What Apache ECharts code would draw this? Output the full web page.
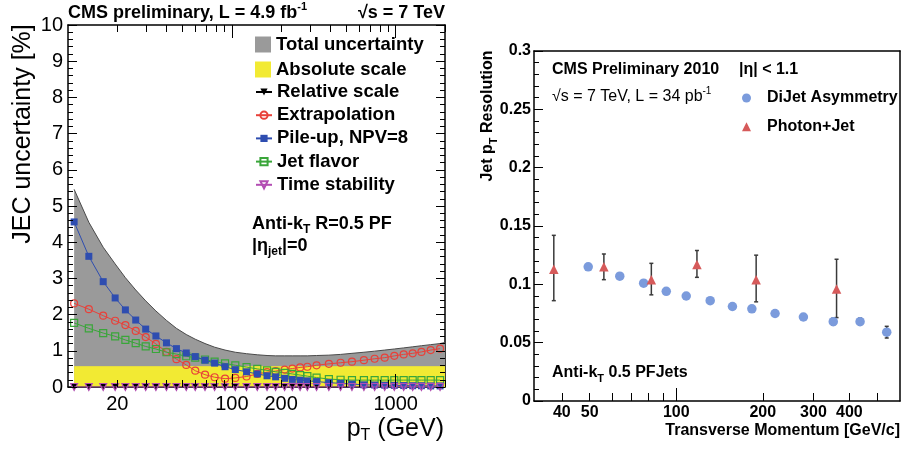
<!DOCTYPE html>
<html><head><meta charset="utf-8">
<script src="https://cdn.jsdelivr.net/npm/echarts@6/dist/echarts.min.js"></script>
<style>html,body{margin:0;padding:0;background:#fff}.c{position:absolute;left:0;top:0;width:904px;height:453px}#t{pointer-events:none}</style>
</head><body><div class="c" id="c"></div><div class="c" id="t"></div>
<script>
// ---------- Left panel: JEC uncertainty vs pT ----------
const ptBins = [10.9, 13.4, 16.4, 19.4, 22.4, 25.9, 29.8, 34.4, 39.9, 45.9, 52.7, 59.8, 68.6, 78.5, 90.9, 105, 123, 143, 164, 185, 210, 234, 261, 289, 329, 391, 461, 541, 640, 744, 857, 981, 1119, 1270, 1436, 1636, 1866];
const totalUnc = [5.46, 4.55, 3.86, 3.40, 3.02, 2.68, 2.38, 2.10, 1.84, 1.62, 1.45, 1.32, 1.20, 1.10, 1.02, 0.96, 0.92, 0.89, 0.87, 0.86, 0.86, 0.86, 0.86, 0.86, 0.87, 0.88, 0.90, 0.93, 0.96, 0.99, 1.02, 1.05, 1.08, 1.11, 1.14, 1.17, 1.20];
const totalEndPt = 2000;
const totalEndVal = 1.23;
const absPt = [10.9, 2000];
const absScale = [0.56, 0.56];
const relScale = [0,0,0,0,0,0,0,0,0,0,0,0,0,0,0,0,0,0,0,0,0,0,0,0,0,0,0,0,0,0,0,0,0,0,0,0,0];
const extrap = [2.31, 2.15, 1.97, 1.83, 1.71, 1.55, 1.38, 1.19, 0.97, 0.77, 0.61, 0.45, 0.34, 0.27, 0.23, 0.25, 0.29, 0.36, 0.41, 0.44, 0.48, 0.51, 0.54, 0.56, 0.60, 0.64, 0.67, 0.70, 0.74, 0.78, 0.81, 0.86, 0.90, 0.93, 0.97, 1.02, 1.06];
const pileUp = [4.56, 3.61, 2.91, 2.46, 2.13, 1.85, 1.60, 1.41, 1.22, 1.06, 0.94, 0.84, 0.74, 0.66, 0.56, 0.48, 0.42, 0.36, 0.31, 0.28, 0.24, 0.21, 0.19, 0.17, 0.15, 0.12, 0.10, 0.08, 0.06, 0.055, 0.05, 0.045, 0.04, 0.035, 0.035, 0.03, 0.03];
const flavor = [1.77, 1.62, 1.49, 1.40, 1.30, 1.21, 1.12, 1.05, 0.96, 0.91, 0.85, 0.81, 0.76, 0.70, 0.65, 0.60, 0.55, 0.50, 0.46, 0.42, 0.39, 0.36, 0.33, 0.30, 0.26, 0.22, 0.20, 0.19, 0.19, 0.19, 0.19, 0.19, 0.19, 0.19, 0.19, 0.19, 0.19];
const timeStab = [0,0,0,0,0,0,0,0,0,0,0,0,0,0,0,0,0,0,0,0,0,0,0,0,0,0,0,0,0,0,0,0,0,0,0,0,0];
const leftXLabels = [20, 100, 200, 1000];
const leftXTicksShort = [20, 30, 40, 50, 60, 70, 80, 90, 200, 300, 400, 500, 600, 700, 800, 900, 2000];
const leftXTicksLong = [100, 1000];

// ---------- Right panel: jet pT resolution ----------
const dijetPt = [49.4, 63.6, 77.0, 92.3, 108.3, 131.2, 156.8, 183.2, 220.6, 276.8, 351.6, 435.8, 539.5];
const dijetRes = [0.115, 0.107, 0.101, 0.094, 0.090, 0.086, 0.081, 0.079, 0.075, 0.072, 0.068, 0.068, 0.059];
const dijetErr = [0.002, 0.002, 0.002, 0.002, 0.002, 0.002, 0.002, 0.002, 0.002, 0.002, 0.003, 0.003, 0.005];
const photonPt = [37.5, 56.0, 81.9, 118, 189.6, 361];
const photonRes = [0.113, 0.115, 0.104, 0.117, 0.104, 0.096];
const photonErrHi = [0.142, 0.126, 0.118, 0.129, 0.125, 0.1215];
const photonErrLo = [0.086, 0.104, 0.091, 0.106, 0.085, 0.0715];
const rightXLabels = [40, 50, 100, 200, 300, 400];
const rightXTicksShort = [40, 50, 60, 70, 80, 90, 200, 300, 400, 500];
const rightXTicksLong = [100];

const FONT = "'Liberation Sans', Arial, Helvetica, sans-serif";
const C = {
  gray: '#9a9a9a', grayLine: '#4a4a4a', yellow: '#f2ea33',
  red: '#e8413a', blue: '#2e4db0', green: '#3aa63a', purple: '#b34db3',
  dijet: '#7b9bdc', photon: '#d65a5a'
};
const pairs = (xs, ys) => xs.map((x, i) => [x, ys[i]]);

const GRIDS = [
  {left: 68, top: 25, width: 377, height: 362},
  {left: 534, top: 51, width: 366, height: 350}
];

// part: 'main' -> axis lines + labels ; 'ticks' -> tick marks only
function xLog(part, grid, min, max, pos, labels, ticks, tickLen, showLine, labelStyle) {
  const main = part === 'main';
  return {
    type: 'log', gridIndex: grid, position: pos, min: min, max: max, logBase: 10,
    axisLine: {show: main && showLine, onZero: false, lineStyle: {color: '#000', width: 1.5}},
    axisTick: (!main && ticks) ? {show: true, inside: true, length: tickLen, customValues: ticks, lineStyle: {color: '#000', width: 1}} : {show: false},
    axisLabel: (main && labels) ? Object.assign({show: true, customValues: labels, formatter: v => String(v), color: '#000', fontFamily: FONT}, labelStyle) : {show: false},
    splitLine: {show: false}, minorTick: {show: false}
  };
}
function yVal(part, grid, pos, min, max, interval, withTicks, labelStyle) {
  const main = part === 'main';
  return {
    type: 'value', gridIndex: grid, position: pos, min: min, max: max, interval: interval,
    axisLine: {show: main, onZero: false, lineStyle: {color: '#000', width: 1.5}},
    axisTick: (!main && withTicks) ? {show: true, inside: true, length: 9, lineStyle: {color: '#000', width: 1}} : {show: false},
    minorTick: (!main && withTicks) ? {show: true, splitNumber: 5, length: 5, lineStyle: {color: '#000', width: 1}} : {show: false},
    axisLabel: (main && labelStyle) ? Object.assign({show: true, color: '#000', fontFamily: FONT}, labelStyle) : {show: false},
    splitLine: {show: false}
  };
}
function axes(part) {
  return {
    xAxis: [
      xLog(part, 0, 10, 2000, 'bottom', leftXLabels, leftXTicksShort, 7, true, {fontSize: 20, margin: 7}),
      xLog(part, 0, 10, 2000, 'bottom', null, leftXTicksLong, 13, false),
      xLog(part, 0, 10, 2000, 'top', null, leftXTicksShort, 7, true),
      xLog(part, 0, 10, 2000, 'top', null, leftXTicksLong, 13, false),
      xLog(part, 1, 32, 600, 'bottom', rightXLabels, rightXTicksShort, 8, true, {fontSize: 16, fontWeight: 'bold', margin: 4}),
      xLog(part, 1, 32, 600, 'bottom', null, rightXTicksLong, 13, false),
      xLog(part, 1, 32, 600, 'top', null, null, 0, true)
    ],
    yAxis: [
      yVal(part, 0, 'left', 0, 10, 1, true, {fontSize: 20, margin: 5}),
      yVal(part, 0, 'right', 0, 10, 1, true, null),
      yVal(part, 1, 'left', 0, 0.3, 0.05, true, {fontSize: 16, fontWeight: 'bold', margin: 3}),
      yVal(part, 1, 'right', 0, 0.3, 0.05, false, null)
    ]
  };
}

function errRender(params, api) {
  const x = api.value(0), lo = api.value(1), hi = api.value(2);
  const p1 = api.coord([x, lo]);
  const p2 = api.coord([x, hi]);
  return {type: 'group', children: [
    {type: 'line', shape: {x1: p1[0], y1: p1[1], x2: p2[0], y2: p2[1]}, style: {stroke: '#3a3a3a', lineWidth: 1.5}},
    {type: 'line', shape: {x1: p1[0] - 2, y1: p1[1], x2: p1[0] + 2, y2: p1[1]}, style: {stroke: '#3a3a3a', lineWidth: 1.5}},
    {type: 'line', shape: {x1: p2[0] - 2, y1: p2[1], x2: p2[0] + 2, y2: p2[1]}, style: {stroke: '#3a3a3a', lineWidth: 1.5}}
  ]};
}

function T(x, y, text, rich, extra) {
  return Object.assign({
    type: 'text', x: x, y: y, z: 100,
    style: {text: text, rich: rich, fill: '#000', fontFamily: FONT,
      align: 'left', textAlign: 'left', verticalAlign: 'middle', textVerticalAlign: 'middle'}
  }, extra || {});
}
function alignRight(el) { el.style.align = 'right'; el.style.textAlign = 'right'; return el; }
function alignCenter(el) { el.style.align = 'center'; el.style.textAlign = 'center'; return el; }

const richL = {
  b: {fontSize: 18, fontWeight: 'bold', fontFamily: FONT, lineHeight: 24, verticalAlign: 'middle'},
  sup: {fontSize: 11, fontWeight: 'bold', fontFamily: FONT, lineHeight: 11, verticalAlign: 'top'},
  sub: {fontSize: 12, fontWeight: 'bold', fontFamily: FONT, lineHeight: 12, verticalAlign: 'bottom'},
  r: {fontSize: 25, fontFamily: FONT, lineHeight: 30, verticalAlign: 'middle'},
  rs: {fontSize: 16, fontFamily: FONT, lineHeight: 16, verticalAlign: 'bottom'}
};
const richR = {
  b: {fontSize: 16, fontWeight: 'bold', fontFamily: FONT, lineHeight: 22, verticalAlign: 'middle'},
  r: {fontSize: 16, fontFamily: FONT, lineHeight: 22, verticalAlign: 'middle'},
  sup: {fontSize: 10, fontFamily: FONT, lineHeight: 10, verticalAlign: 'top'},
  sub: {fontSize: 11, fontWeight: 'bold', fontFamily: FONT, lineHeight: 11, verticalAlign: 'bottom'}
};

const emptyStyle = col => ({color: 'rgba(0,0,0,0)', borderColor: col, borderWidth: 1.2});

const mainAxes = axes('main');
const option = {
  backgroundColor: '#fff',
  animation: false,
  grid: GRIDS,
  xAxis: mainAxes.xAxis,
  yAxis: mainAxes.yAxis,
  legend: [
    {left: 255, top: 35, padding: 0, orient: 'vertical', itemWidth: 16, itemHeight: 16, itemGap: 6,
      textStyle: {fontSize: 18.5, fontWeight: 'bold', fontFamily: FONT, color: '#000', lineHeight: 18},
      data: [
        {name: 'Total uncertainty', icon: 'rect', itemStyle: {color: C.gray, borderColor: C.grayLine, borderWidth: 0}},
        {name: 'Absolute scale', icon: 'rect', itemStyle: {color: C.yellow, borderWidth: 0}}
      ]},
    {left: 255, top: 82.5, padding: 0, orient: 'vertical', itemWidth: 16, itemHeight: 9, itemGap: 4.2,
      textStyle: {fontSize: 18.5, fontWeight: 'bold', fontFamily: FONT, color: '#000', lineHeight: 18},
      data: ['Relative scale', 'Extrapolation', 'Pile-up, NPV=8', 'Jet flavor', 'Time stability']},
    {left: 742, top: 90, padding: 0, orient: 'vertical', itemWidth: 9, itemHeight: 9, itemGap: 12.7,
      textStyle: {fontSize: 16, fontWeight: 'bold', fontFamily: FONT, color: '#000', lineHeight: 16, padding: [0, 0, 0, 11]},
      data: ['DiJet Asymmetry', 'Photon+Jet']}
  ],
  series: [
    {name: 'Total uncertainty', type: 'line', xAxisIndex: 0, yAxisIndex: 0, z: 1,
      data: pairs(ptBins, totalUnc).concat([[totalEndPt, totalEndVal]]),
      showSymbol: false, symbol: 'none', smooth: false,
      lineStyle: {color: C.grayLine, width: 1}, itemStyle: {color: C.gray},
      areaStyle: {color: C.gray, opacity: 1}},
    {name: 'Absolute scale', type: 'line', xAxisIndex: 0, yAxisIndex: 0, z: 2,
      data: pairs(absPt, absScale), showSymbol: false, symbol: 'none',
      lineStyle: {color: C.yellow, width: 1}, itemStyle: {color: C.yellow},
      areaStyle: {color: C.yellow, opacity: 1}},
    {name: 'Relative scale', type: 'line', xAxisIndex: 0, yAxisIndex: 0, z: 3,
      data: pairs(ptBins, relScale), symbol: 'triangle', symbolRotate: 180, symbolSize: 7,
      itemStyle: {color: '#000'}, lineStyle: {color: '#000', width: 1}},
    {name: 'Extrapolation', type: 'line', xAxisIndex: 0, yAxisIndex: 0, z: 4,
      data: pairs(ptBins, extrap), symbol: 'circle', symbolSize: 7,
      itemStyle: emptyStyle(C.red), lineStyle: {color: C.red, width: 1}},
    {name: 'Pile-up, NPV=8', type: 'line', xAxisIndex: 0, yAxisIndex: 0, z: 5,
      data: pairs(ptBins, pileUp), symbol: 'rect', symbolSize: 7,
      itemStyle: {color: C.blue}, lineStyle: {color: C.blue, width: 1}},
    {name: 'Jet flavor', type: 'line', xAxisIndex: 0, yAxisIndex: 0, z: 4,
      data: pairs(ptBins, flavor), symbol: 'rect', symbolSize: 7,
      itemStyle: emptyStyle(C.green), lineStyle: {color: C.green, width: 1}},
    {name: 'Time stability', type: 'line', xAxisIndex: 0, yAxisIndex: 0, z: 6,
      data: pairs(ptBins, timeStab), symbol: 'triangle', symbolRotate: 180, symbolSize: 7,
      itemStyle: emptyStyle(C.purple), lineStyle: {color: C.purple, width: 1}},

    {name: 'dijetErr', type: 'custom', xAxisIndex: 4, yAxisIndex: 2, z: 2,
      data: dijetPt.map((x, i) => [x, dijetRes[i] - dijetErr[i], dijetRes[i] + dijetErr[i]]),
      encode: {x: 0, y: [1, 2]}, renderItem: errRender},
    {name: 'photonErr', type: 'custom', xAxisIndex: 4, yAxisIndex: 2, z: 2,
      data: photonPt.map((x, i) => [x, photonErrLo[i], photonErrHi[i]]),
      encode: {x: 0, y: [1, 2]}, renderItem: errRender},
    {name: 'DiJet Asymmetry', type: 'scatter', xAxisIndex: 4, yAxisIndex: 2, z: 3,
      data: pairs(dijetPt, dijetRes), symbol: 'circle', symbolSize: 9.5,
      itemStyle: {color: C.dijet, opacity: 1}},
    {name: 'Photon+Jet', type: 'scatter', xAxisIndex: 4, yAxisIndex: 2, z: 3,
      data: pairs(photonPt, photonRes), symbol: 'triangle', symbolSize: 9.5,
      itemStyle: {color: C.photon, opacity: 1}}
  ],
  graphic: {elements: [
    T(68, 13, '{b|CMS preliminary, L = 4.9 fb}{sup|-1}', richL),
    alignRight(T(445, 13, '{b|√s = 7 TeV}', richL)),
    T(252, 224, '{b|Anti-k}{sub|T}{b| R=0.5 PF}', richL),
    T(252, 246, '{b||η}{sub|jet}{b||=0}', richL),
    alignCenter(T(23, 134, '{r|JEC uncertainty [%]}', richL, {rotation: Math.PI / 2})),
    alignRight(T(444, 429, '{r|p}{rs|T}{r| (GeV)}', richL)),

    T(552, 70, '{b|CMS Preliminary 2010}', richR),
    T(739, 70, '{b||η| < 1.1}', richR),
    T(552, 97, '{r|√s = 7 TeV, L = 34 pb}{sup|-1}', richR),
    T(552, 373, '{b|Anti-k}{sub|T}{b| 0.5 PFJets}', richR),
    alignCenter(T(488, 116, '{b|Jet p}{sub|T}{b| Resolution}', richR, {rotation: Math.PI / 2})),
    alignRight(T(900, 431, '{b|Transverse Momentum [GeV/c]}', richR))
  ]}
};

// Tick layer: same grids and axes, only the tick marks, drawn on a transparent overlay
const tickAxes = axes('ticks');
const tickOption = {
  backgroundColor: 'transparent',
  animation: false,
  grid: GRIDS,
  xAxis: tickAxes.xAxis,
  yAxis: tickAxes.yAxis,
  series: []
};

try {
  echarts.init(document.getElementById('c')).setOption(option);
} catch (e) {
  document.body.insertAdjacentHTML('beforeend', '<div style="position:absolute;left:470px;top:440px;font:10px sans-serif;color:red">' + e.message + '</div>');
}
try {
  echarts.init(document.getElementById('t')).setOption(tickOption);
} catch (e) {
  document.body.insertAdjacentHTML('beforeend', '<div style="position:absolute;left:470px;top:430px;font:10px sans-serif;color:red">' + e.message + '</div>');
}
</script></body></html>
